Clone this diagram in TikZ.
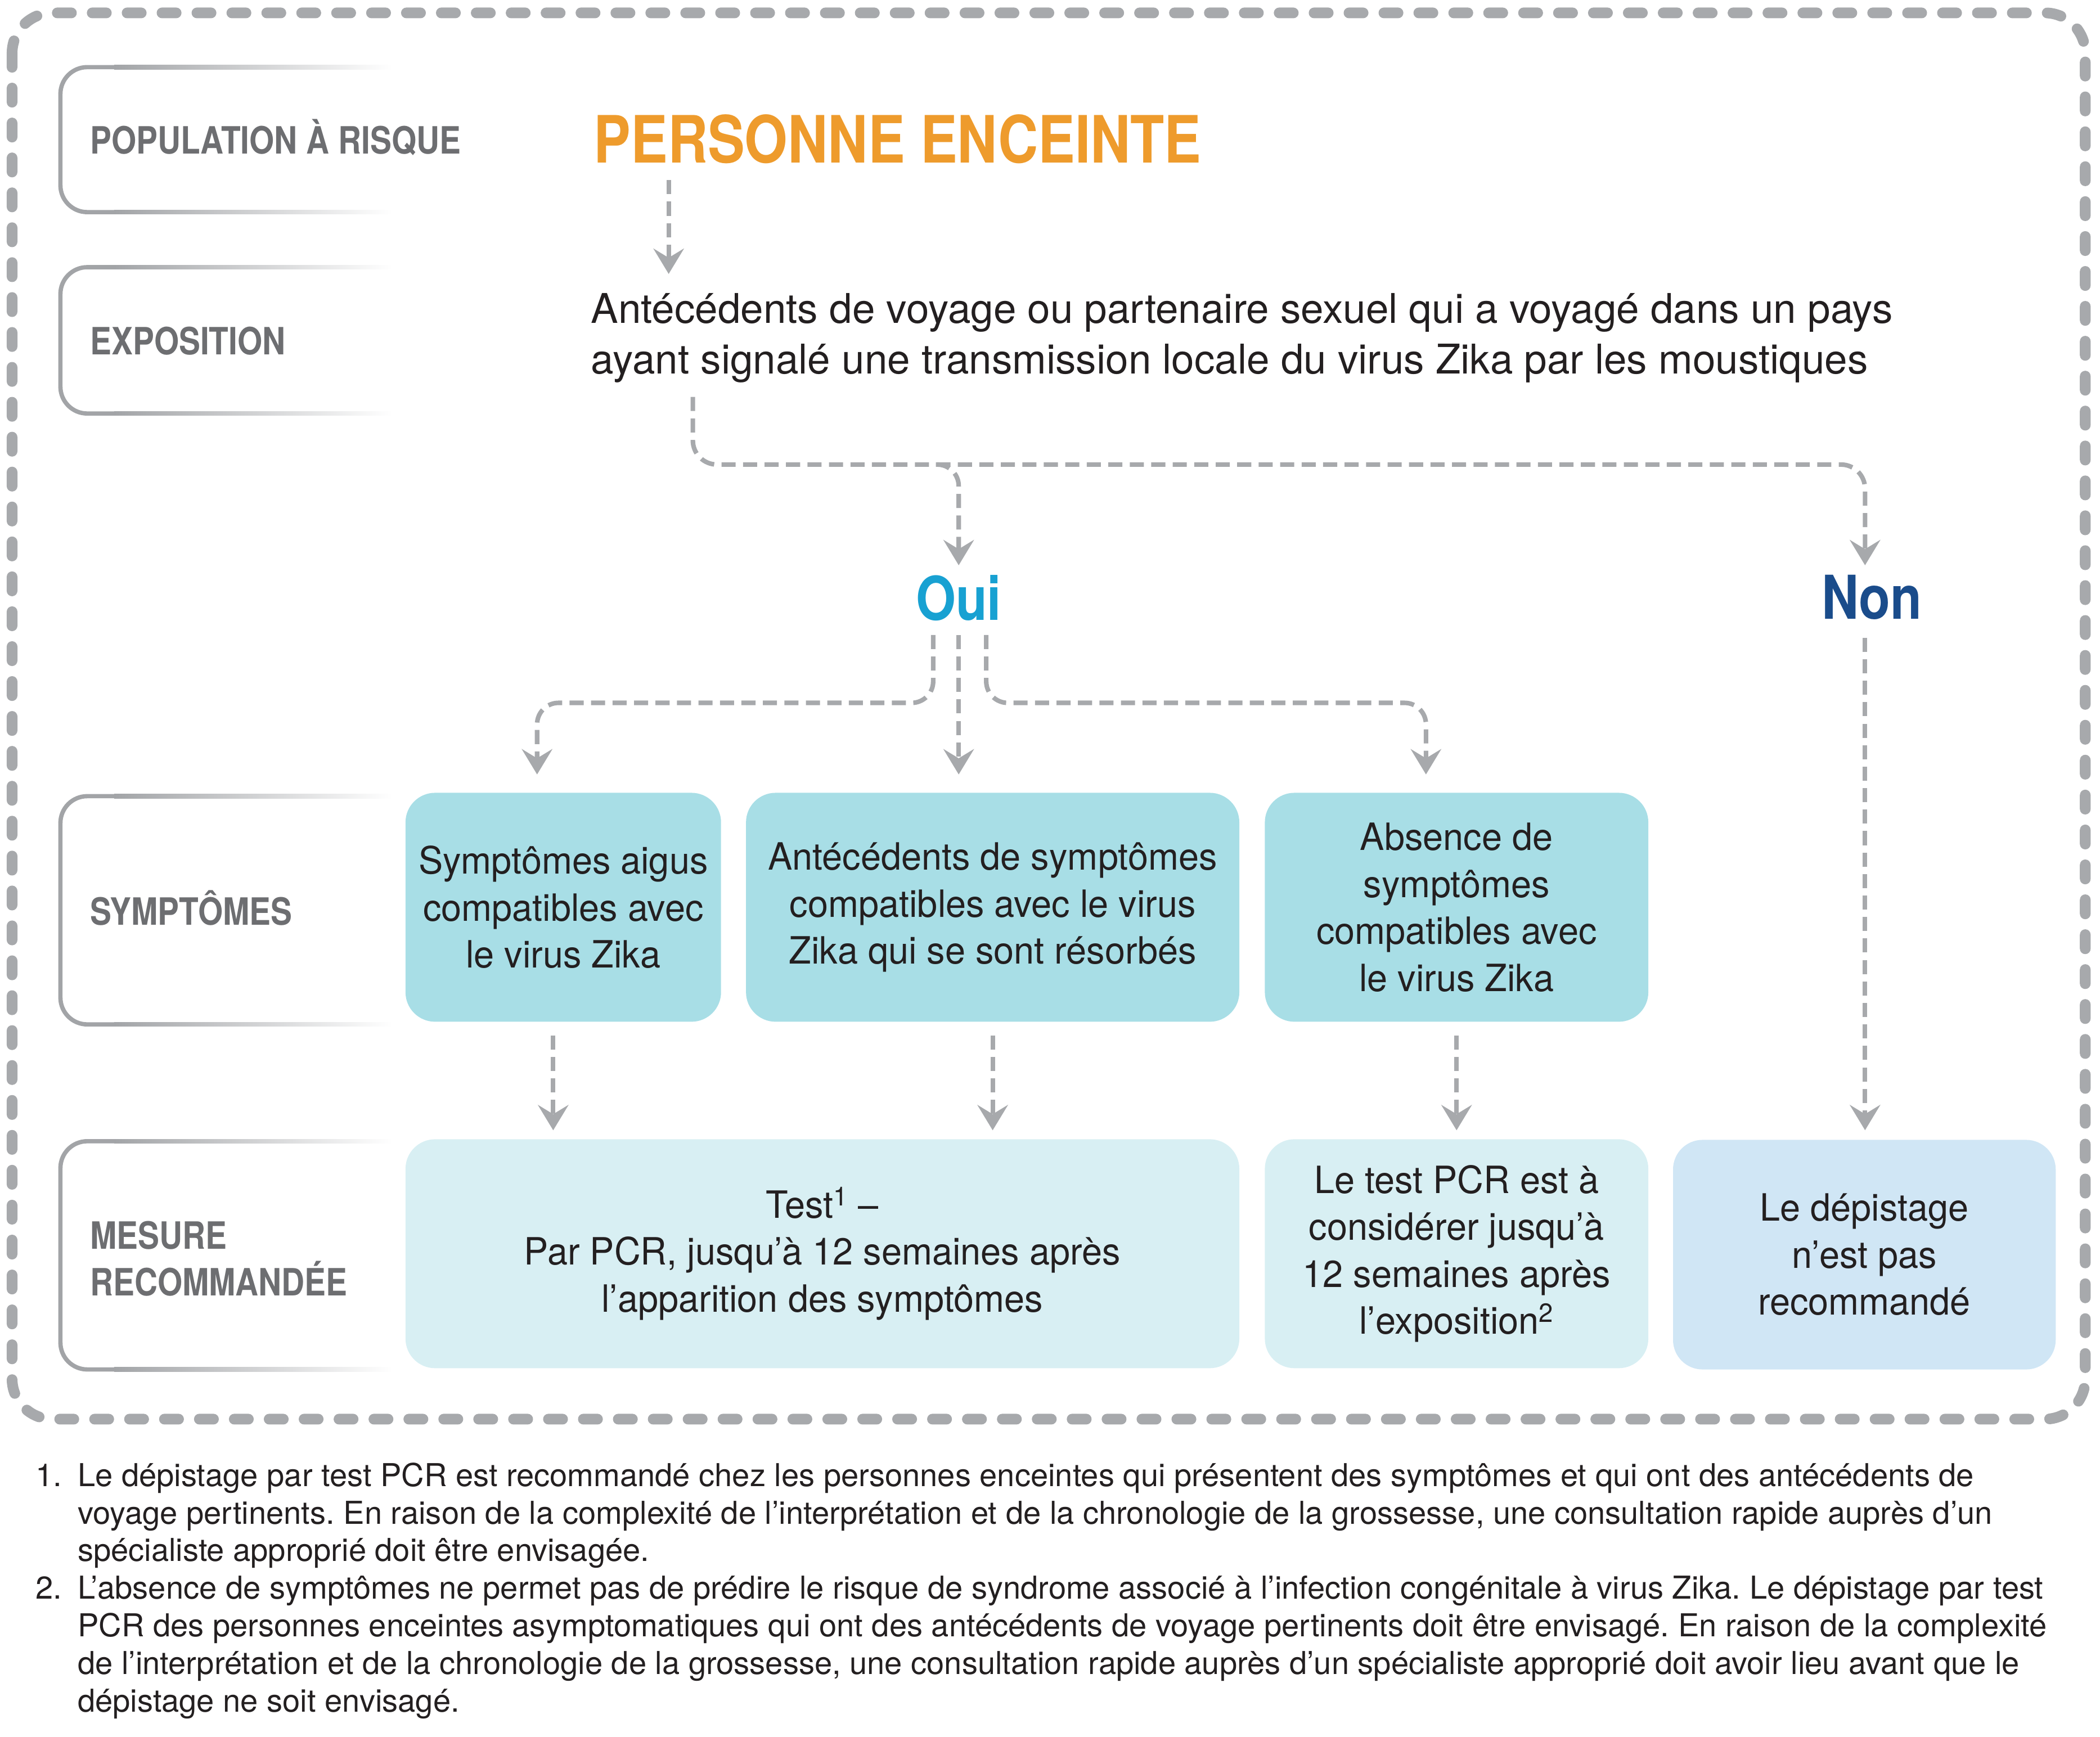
\documentclass[tikz,border=0pt]{standalone}
\usepackage{fontspec}
\setmainfont{TeX Gyre Heros}
\newfontfamily\condb{TeX Gyre Heros}[FakeStretch=0.85]
\newfontfamily\boxf{TeX Gyre Heros}[FakeStretch=0.97]
\usetikzlibrary{arrows.meta,calc}
\frenchspacing
\definecolor{bordergray}{HTML}{A7A9AC}
\definecolor{conngray}{HTML}{A7A9AC}
\definecolor{lbgray}{HTML}{A2A4A7}
\definecolor{labgray}{HTML}{6D6E71}
\definecolor{txt}{HTML}{231F20}
\definecolor{orangeT}{HTML}{EE9B2C}
\definecolor{ouiblue}{HTML}{18A1D2}
\definecolor{nonblue}{HTML}{1A4C8B}
\definecolor{symfill}{HTML}{A8DEE6}
\definecolor{mesfill}{HTML}{D8EFF3}
\definecolor{nonfill}{HTML}{D0E6F5}
\tikzset{
  outerframe/.style={draw=bordergray, line width=8pt, line cap=round, dash pattern=on 10.5pt off 15.5pt, rounded corners=30pt},
  lbline/.style={draw=lbgray, line width=3.2pt},
  labtxt/.style={font=\condb\bfseries\fontsize{28}{34}\selectfont, text=labgray, inner sep=0pt, anchor=base west},
  conn/.style={draw=conngray, line width=3.4pt, dash pattern=on 10.5pt off 5.5pt,
    -{Stealth[length=19pt,width=23pt,inset=7pt,line width=0.5pt]}},
  boxbase/.style={rectangle, rounded corners=22pt, draw=none, inner sep=0pt, align=center,
    font=\boxf\fontsize{28}{35}\selectfont, text=txt},
  symbox/.style={boxbase, fill=symfill, minimum height=170.5pt},
  mesbox/.style={boxbase, fill=mesfill, minimum height=170.5pt},
  nonbox/.style={boxbase, fill=nonfill, minimum height=171pt},
  foot/.style={font=\fontsize{23.5}{28}\selectfont, text=txt, inner sep=0pt, anchor=base west},
  expo/.style={font=\fontsize{30.5}{37.8}\selectfont, text=txt, inner sep=0pt, anchor=base west}
}
\begin{document}
\begin{tikzpicture}[x=1pt,y=-1pt]
\useasboundingbox (0,0) rectangle (1564,1293.4);

% outer dashed frame
\draw[outerframe] (9,9.6) rectangle (1553,1057);

% left label boxes
\foreach \t/\b in {50/158, 199/308, 593/763, 850/1020}{
  \draw[lbline, rounded corners=20pt] (86,\t) -- (45,\t) -- (45,\b) -- (86,\b);
  \shade[left color=lbgray, right color=white] (85,\t-1.6) rectangle (292,\t+1.6);
  \shade[left color=lbgray, right color=white] (85,\b-1.6) rectangle (292,\b+1.6);
}

\node[labtxt] (lpop) at (67,114.4) {POPULATION À RISQUE};
\node[labtxt] (lexp) at (67,264) {EXPOSITION};
\node[labtxt] (lsym) at (67,689) {SYMPTÔMES};
\node[labtxt] (lmesA) at (67,930.5) {MESURE};
\node[labtxt] (lmesB) at (67,965) {RECOMMANDÉE};

% title and exposure
\node[font=\condb\bfseries\fontsize{48.6}{58}\selectfont, text=orangeT, inner sep=0pt, anchor=base west]
  (title) at (442,121.4) {PERSONNE ENCEINTE};
\node[expo] (expoA) at (440,240.5) {Antécédents de voyage ou partenaire sexuel qui a voyagé dans un pays};
\node[expo] (expoB) at (440,278.3) {ayant signalé une transmission locale du virus Zika par les moustiques};

% Oui / Non
\node[font=\condb\bfseries\fontsize{45}{54}\selectfont, text=ouiblue, inner sep=0pt, anchor=base]
  (oui) at (714,461.7) {Oui};
\node[font=\condb\bfseries\fontsize{45}{54}\selectfont, text=nonblue, inner sep=0pt, anchor=base]
  (non) at (1394,461) {Non};

% symptom boxes
\node[symbox, minimum width=235pt] (symA) at (419.5,675.75) {Symptômes aigus\\compatibles avec\\le virus Zika};
\node[symbox, minimum width=367.4pt] (symB) at (739.3,675.75) {Antécédents de symptômes\\compatibles avec le virus\\Zika qui se sont résorbés};
\node[symbox, minimum width=285.6pt] (symC) at (1084.8,675.75) {Absence de\\symptômes\\compatibles avec\\le virus Zika};

% measure boxes
\node[mesbox, minimum width=621pt] (mesD) at (612.5,933.8) {Test\textsuperscript{1} –\\Par PCR, jusqu’à 12 semaines après\\l’apparition des symptômes};
\node[mesbox, minimum width=285.6pt] (mesE) at (1084.8,933.8) {Le test PCR est à\\considérer jusqu’à\\12 semaines après\\l’exposition\textsuperscript{2}};
\node[nonbox, minimum width=285pt] (mesF) at (1388.5,934.5) {Le dépistage\\n’est pas\\recommandé};

% connector coordinates
\coordinate (a1) at (498,204);
\coordinate (hy) at (0,346);
\coordinate (hy2) at (0,523.5);
\coordinate (nonIn) at (1389,421);
\coordinate (ouiIn) at (714,421);
\coordinate (tA) at ($(symA.north)+(-19.5,-13.5)$);
\coordinate (tB) at ($(symB.north)+(-25.3,-13.5)$);
\coordinate (tC) at ($(symC.north)+(-22.8,-13.5)$);
\coordinate (sL) at ($(oui.south)+(-19,10.5)$);
\coordinate (sM) at ($(oui.south)+(0,10.5)$);
\coordinate (sR) at ($(oui.south)+(20.5,10.5)$);
\coordinate (sE) at ($(expoB.south west)+(76,10.5)$);

% connectors
\draw[conn] ($(title.south west -| a1)+(0,12)$) -- (a1);
\draw[conn, rounded corners=18pt] (sE) -- (sE |- hy) -- (nonIn |- hy) -- (nonIn);
\draw[conn, rounded corners=16pt] ($(ouiIn |- hy)+(-17,0)$) -- (ouiIn |- hy) -- (ouiIn);
\draw[conn, rounded corners=16pt] (sL) -- (sL |- hy2) -- (tA |- hy2) -- (tA);
\draw[conn] (sM) -- (tB);
\draw[conn, rounded corners=16pt] (sR) -- (sR |- hy2) -- (tC |- hy2) -- (tC);

\draw[conn] ($(symA.south)+(-7.5,10)$) -- ($(symA.south |- mesD.north)+(-7.5,-6.5)$);
\draw[conn] ($(symB.south)+(0,10)$) -- ($(symB.south |- mesD.north)+(0,-6.5)$);
\draw[conn] ($(symC.south)+(0,10)$) -- ($(mesE.north)+(0,-6.5)$);
\draw[conn] ($(non.south)+(-5,13.4)$) -- ($(mesF.north)+(0.5,-7)$);

% footnotes
\node[foot] (fn1) at (26.5,1107) {1.};
\node[foot] (f1a) at (57.7,1107) {Le dépistage par test PCR est recommandé chez les personnes enceintes qui présentent des symptômes et qui ont des antécédents de};
\node[foot] (f1b) at (57.7,1135) {voyage pertinents. En raison de la complexité de l’interprétation et de la chronologie de la grossesse, une consultation rapide auprès d’un};
\node[foot] (f1c) at (57.7,1163) {spécialiste approprié doit être envisagée.};
\node[foot] (fn2) at (26.5,1191) {2.};
\node[foot] (f2a) at (57.7,1191) {L’absence de symptômes ne permet pas de prédire le risque de syndrome associé à l’infection congénitale à virus Zika. Le dépistage par test};
\node[foot] (f2b) at (57.7,1219) {PCR des personnes enceintes asymptomatiques qui ont des antécédents de voyage pertinents doit être envisagé. En raison de la complexité};
\node[foot] (f2c) at (57.7,1247) {de l’interprétation et de la chronologie de la grossesse, une consultation rapide auprès d’un spécialiste approprié doit avoir lieu avant que le};
\node[foot] (f2d) at (57.7,1275) {dépistage ne soit envisagé.};
\end{tikzpicture}
\end{document}
